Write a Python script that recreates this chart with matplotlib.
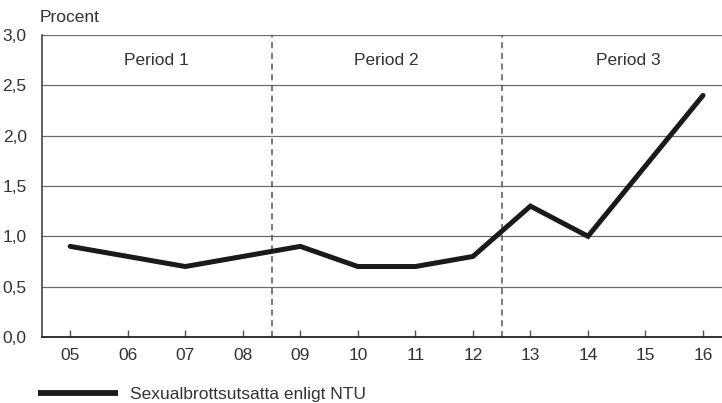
import matplotlib.pyplot as plt
import numpy as np

plt.rcParams['font.family'] = ['Liberation Sans', 'DejaVu Sans']

years = ['05', '06', '07', '08', '09', '10', '11', '12', '13', '14', '15', '16']
values = [0.9, 0.8, 0.7, 0.8, 0.9, 0.7, 0.7, 0.8, 1.3, 1.0, 1.7, 2.4]
yticks = [0.0, 0.5, 1.0, 1.5, 2.0, 2.5, 3.0]
periods = ['Period 1', 'Period 2', 'Period 3']
period_x = [6.5, 10.5, 14.7]
period_bounds = [8.5, 12.5]

x = np.arange(5, 5 + len(years))
fs = 12.5
tc = '#333333'

fig = plt.figure(figsize=(7.22, 4.03), dpi=100)
ax = fig.add_axes([0.0582, 0.1638, 0.9418, 0.7494])

for yv in yticks[1:]:
    ax.axhline(yv, color='#6b6b6b', linewidth=0.9, zorder=1)

for b in period_bounds:
    ax.axvline(b, color='#555555', linestyle=(0, (4, 3)), linewidth=1.1, zorder=1)

for lab, px in zip(periods, period_x):
    ax.text(px, 2.75, lab, ha='center', va='center', fontsize=fs, color=tc)

ax.plot(x, values, color='#1a1a1a', linewidth=3.6, solid_joinstyle='miter',
        solid_capstyle='round', zorder=3, label='Sexualbrottsutsatta enligt NTU')

ax.set_xlim(4.51, 16.33)
ax.set_ylim(0, 3.0)
ax.set_xticks(x)
ax.set_xticklabels(years)
ax.set_yticks(yticks)
ax.set_yticklabels([f'{v:.1f}'.replace('.', ',') for v in yticks])
ax.tick_params(axis='x', direction='in', length=5, width=1, color='#555555',
               labelsize=fs, labelcolor=tc, pad=8)
ax.tick_params(axis='y', length=0, labelsize=fs, labelcolor=tc, pad=11)

for s in ['top', 'right']:
    ax.spines[s].set_visible(False)
ax.spines['left'].set_color('#444444')
ax.spines['left'].set_linewidth(1.2)
ax.spines['bottom'].set_color('#222222')
ax.spines['bottom'].set_linewidth(1.3)

fig.text(40 / 722, 1 - 17 / 403, 'Procent', fontsize=fs, color=tc, va='center')

leg = ax.legend(loc='lower left', bbox_to_anchor=(-0.016, -0.238), frameon=False,
                fontsize=fs, handlelength=4.6, handletextpad=0.7, borderaxespad=0,
                labelcolor=tc)
leg.get_lines()[0].set_linewidth(4.2)
leg.get_lines()[0].set_solid_capstyle('butt')

fig.savefig('out.png', dpi=100)
